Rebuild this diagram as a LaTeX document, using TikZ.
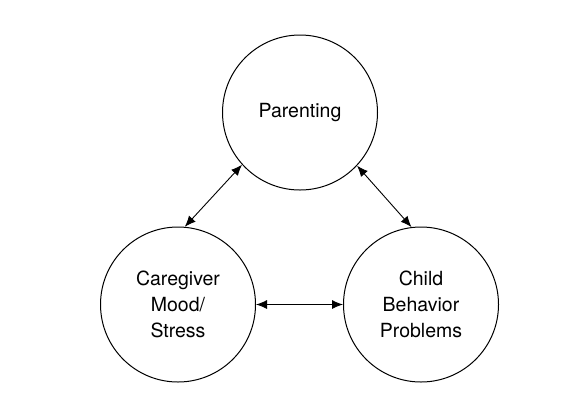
\documentclass[tikz,border=0pt]{standalone}
\usepackage{fontspec}
\setmainfont{TeX Gyre Heros}
\usetikzlibrary{arrows.meta}
\begin{document}
\begin{tikzpicture}[x=1pt,y=-1pt,
  bubble/.style={circle,draw,line width=1pt,minimum size=155pt,inner sep=0pt,align=center,
    font=\fontsize{19.5}{26}\selectfont},
  link/.style={line width=0.9pt,{Latex[length=11pt,width=9pt]}-{Latex[length=11pt,width=9pt]}}]
\useasboundingbox (0,0) rectangle (578,408);
\node[bubble] (par) at (300,112.5) {Parenting};
\node[bubble] (care) at (178,304.5) {Caregiver\\Mood/\\Stress};
\node[bubble] (child) at (421,304.5) {Child\\Behavior\\Problems};
\draw[link] (par.222) -- (care.85);
\draw[link] (par.317) -- (child.97);
\draw[link] (care.east) -- (child.west);
\end{tikzpicture}
\end{document}
